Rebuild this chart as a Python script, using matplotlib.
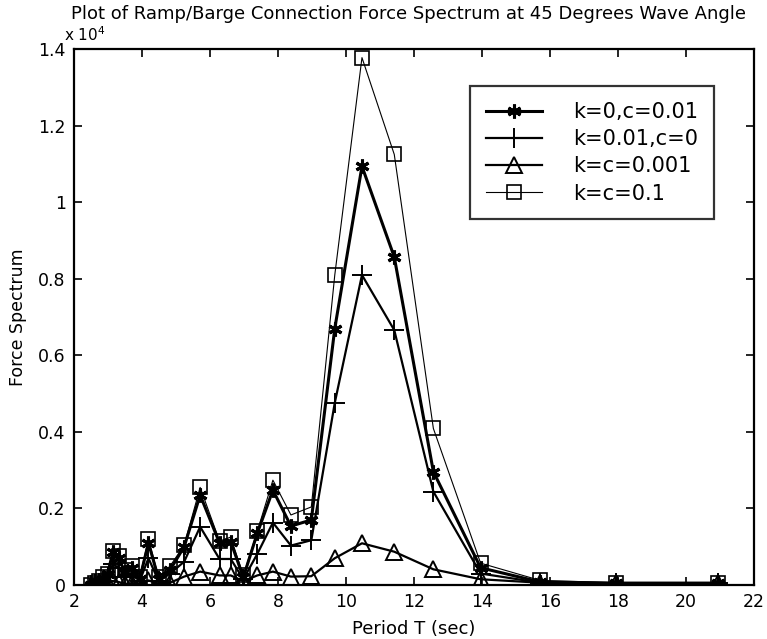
import matplotlib

matplotlib.use('Agg')
import matplotlib.pyplot as plt

# wave periods (sec)
period = [2.51, 2.62, 2.73, 2.86, 2.99, 3.14, 3.31, 3.49, 3.70, 3.93, 4.19, 4.49,
          4.83, 5.24, 5.71, 6.28, 6.61, 6.98, 7.39, 7.85, 8.38, 8.98, 9.67, 10.47,
          11.42, 12.57, 13.96, 15.71, 17.95, 20.94]

# force spectrum, units of 1e4
spec_k0_c001 = [0.0, 0.003, 0.008, 0.015, 0.03, 0.085, 0.07, 0.035, 0.045, 0.015, 0.11, 0.015,
                0.04, 0.10, 0.235, 0.11, 0.113, 0.02, 0.135, 0.248, 0.154, 0.17, 0.67, 1.094,
                0.857, 0.296, 0.045, 0.008, 0.005, 0.005]
spec_k001_c0 = [0.0, 0.002, 0.005, 0.01, 0.02, 0.055, 0.045, 0.02, 0.03, 0.01, 0.07, 0.01,
                0.03, 0.061, 0.152, 0.068, 0.068, 0.015, 0.081, 0.163, 0.103, 0.117, 0.476, 0.81,
                0.666, 0.244, 0.03, 0.006, 0.004, 0.004]
spec_kc0001 = [0.0, 0.001, 0.001, 0.002, 0.004, 0.01, 0.008, 0.003, 0.005, 0.002, 0.012, 0.003,
               0.006, 0.022, 0.035, 0.025, 0.025, 0.01, 0.025, 0.035, 0.022, 0.023, 0.07, 0.109,
               0.087, 0.041, 0.015, 0.006, 0.004, 0.004]
spec_kc01 = [0.0, 0.005, 0.01, 0.02, 0.03, 0.09, 0.075, 0.04, 0.05, 0.02, 0.12, 0.02,
             0.05, 0.104, 0.255, 0.115, 0.125, 0.025, 0.14, 0.274, 0.183, 0.204, 0.81, 1.378,
             1.125, 0.409, 0.057, 0.012, 0.006, 0.006]

labels = ['k=0,c=0.01', 'k=0.01,c=0', 'k=c=0.001', 'k=c=0.1']
xticks = [2, 4, 6, 8, 10, 12, 14, 16, 18, 20, 22]
yticks = [0, 0.2, 0.4, 0.6, 0.8, 1.0, 1.2, 1.4]
ytick_labels = ['0', '0.2', '0.4', '0.6', '0.8', '1', '1.2', '1.4']

plt.rcParams['font.family'] = ['DejaVu Sans']

fig = plt.figure(figsize=(7.67, 6.39), dpi=100)
ax = fig.add_axes([0.0965, 0.0845, 0.8865, 0.8385])

ax.plot(period, spec_k0_c001, '-', color='black', lw=2.2,
        marker=(6, 2, 0), ms=10, mew=2.2, label=labels[0])
ax.plot(period, spec_k001_c0, '-', color='black', lw=1.6,
        marker='+', ms=14, mew=1.4, label=labels[1])
ax.plot(period, spec_kc0001, '-', color='black', lw=1.6,
        marker='^', ms=12, mfc='none', mew=1.4, label=labels[2])
ax.plot(period, spec_kc01, '-', color='black', lw=0.8,
        marker='s', ms=10, mfc='none', mew=1.2, label=labels[3])

ax.set_xlim(2, 22)
ax.set_ylim(0, 1.4)
ax.set_xticks(xticks)
ax.set_yticks(yticks)
ax.set_yticklabels(ytick_labels)
ax.tick_params(direction='in', top=True, right=True, length=6, width=1.2,
               labelsize=12.5, pad=6)
for sp in ax.spines.values():
    sp.set_linewidth(1.6)

ax.set_xlabel('Period T (sec)', fontsize=13, labelpad=6)
ax.set_ylabel('Force Spectrum', fontsize=12.5, labelpad=8)

leg = ax.legend(loc='upper left', bbox_to_anchor=(0.583, 0.931), borderaxespad=0,
                fontsize=15, frameon=True, fancybox=False, edgecolor='black',
                handlelength=2.7, borderpad=0.75, labelspacing=0.35, handletextpad=1.5)
leg.get_frame().set_linewidth(1.6)

fig.text(0.532, 0.978, 'Plot of Ramp/Barge Connection Force Spectrum at 45 Degrees Wave Angle',
         ha='center', va='center', fontsize=13)
# axis multiplier, set just under the title
fig.text(0.083, 0.945, r'x 10$^{4}$', ha='left', va='center', fontsize=11)

fig.savefig('out.png', dpi=100)
